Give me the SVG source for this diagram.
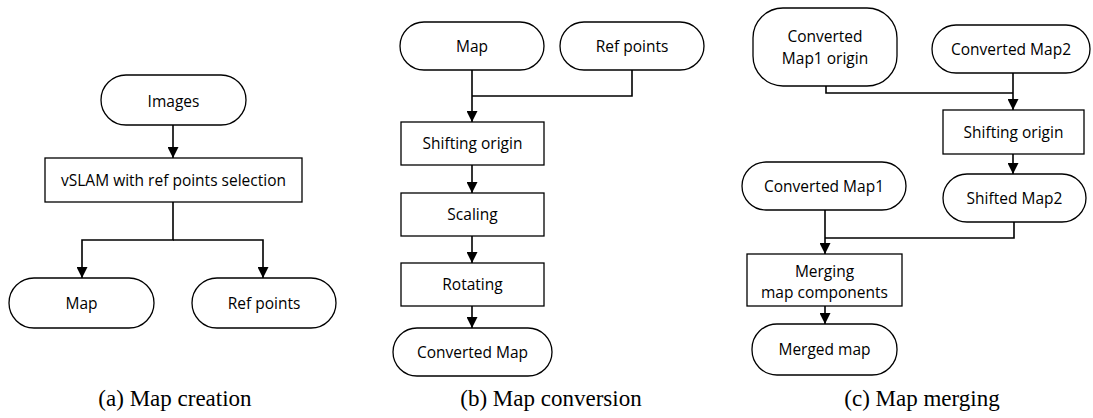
<svg xmlns="http://www.w3.org/2000/svg" width="1093" height="418" viewBox="0 0 1093 418">
<style>
.n{fill:#fff;stroke:#000;stroke-width:1.3}
.t{font-family:"Open Sans","Noto Sans","Liberation Sans",sans-serif;font-size:15.5px;fill:#000;text-anchor:middle}
.c{fill:none;stroke:#000;stroke-width:1.6}
.cap{font-family:"Liberation Serif","Times New Roman",serif;font-size:23px;fill:#000;text-anchor:middle}
</style>
<defs>
<marker id="ah" markerUnits="userSpaceOnUse" markerWidth="11" markerHeight="11" refX="11" refY="5.5" orient="auto"><path d="M0,0 L11,5.5 L0,11 z" fill="#000"/></marker>
</defs>
<g id="connectors">
<path class="c" d="M173,125 V158" marker-end="url(#ah)"/>
<path class="c" d="M173,202 V240 H82 V278" marker-end="url(#ah)"/>
<path class="c" d="M173,240 H263 V278" marker-end="url(#ah)"/>
<path class="c" d="M472,70 V122" marker-end="url(#ah)"/>
<path class="c" d="M632,70 V96 H472"/>
<path class="c" d="M472,165 V193" marker-end="url(#ah)"/>
<path class="c" d="M472,236 V263" marker-end="url(#ah)"/>
<path class="c" d="M472,306 V328" marker-end="url(#ah)"/>
<path class="c" d="M1013,73 V110" marker-end="url(#ah)"/>
<path class="c" d="M826,86 V93 H1013"/>
<path class="c" d="M1013,154 V174" marker-end="url(#ah)"/>
<path class="c" d="M825,210 V254" marker-end="url(#ah)"/>
<path class="c" d="M1014,222 V238 H825"/>
<path class="c" d="M825,306 V324" marker-end="url(#ah)"/>
</g>
<g id="a-images"><rect class="n" x="101" y="75" width="145" height="50" rx="25"/><text class="t" x="173.5" y="106.5">Images</text></g>
<g id="a-vslam"><rect class="n" x="45" y="158" width="257" height="44"/><text class="t" x="173.5" y="186">vSLAM with ref points selection</text></g>
<g id="a-map"><rect class="n" x="9" y="278" width="145" height="50" rx="25"/><text class="t" x="81.5" y="309">Map</text></g>
<g id="a-refpoints"><rect class="n" x="192" y="278" width="144" height="50" rx="25"/><text class="t" x="264" y="309">Ref points</text></g>
<g id="b-map"><rect class="n" x="400" y="22" width="144" height="48" rx="24"/><text class="t" x="472" y="52">Map</text></g>
<g id="b-refpoints"><rect class="n" x="560" y="22" width="144" height="48" rx="24"/><text class="t" x="632" y="52">Ref points</text></g>
<g id="b-shift"><rect class="n" x="401" y="122" width="143" height="43"/><text class="t" x="472.5" y="149">Shifting origin</text></g>
<g id="b-scaling"><rect class="n" x="401" y="193" width="143" height="43"/><text class="t" x="472.5" y="220">Scaling</text></g>
<g id="b-rotating"><rect class="n" x="401" y="263" width="143" height="43"/><text class="t" x="472.5" y="290">Rotating</text></g>
<g id="b-converted"><rect class="n" x="393" y="328" width="159" height="48" rx="24"/><text class="t" x="472.5" y="358">Converted Map</text></g>
<g id="c-map1origin"><rect class="n" x="753" y="8" width="144" height="78" rx="30"/><text class="t" x="825" y="42">Converted</text><text class="t" x="825" y="64">Map1 origin</text></g>
<g id="c-map2"><rect class="n" x="932" y="25" width="158" height="48" rx="24"/><text class="t" x="1011" y="55">Converted Map2</text></g>
<g id="c-shift"><rect class="n" x="943" y="110" width="141" height="44"/><text class="t" x="1013.5" y="138">Shifting origin</text></g>
<g id="c-shifted"><rect class="n" x="943" y="174" width="143" height="48" rx="24"/><text class="t" x="1014.5" y="204">Shifted Map2</text></g>
<g id="c-map1"><rect class="n" x="742" y="162" width="164" height="48" rx="24"/><text class="t" x="824" y="192">Converted Map1</text></g>
<g id="c-merging"><rect class="n" x="747" y="254" width="155" height="52"/><text class="t" x="824.5" y="277">Merging</text><text class="t" x="824.5" y="298">map components</text></g>
<g id="c-merged"><rect class="n" x="752" y="324" width="145" height="51" rx="25"/><text class="t" x="824.5" y="355">Merged map</text></g>
<g id="captions">
<text class="cap" x="175" y="406">(a) Map creation</text>
<text class="cap" x="551" y="406">(b) Map conversion</text>
<text class="cap" x="922" y="406">(c) Map merging</text>
</g>
</svg>
